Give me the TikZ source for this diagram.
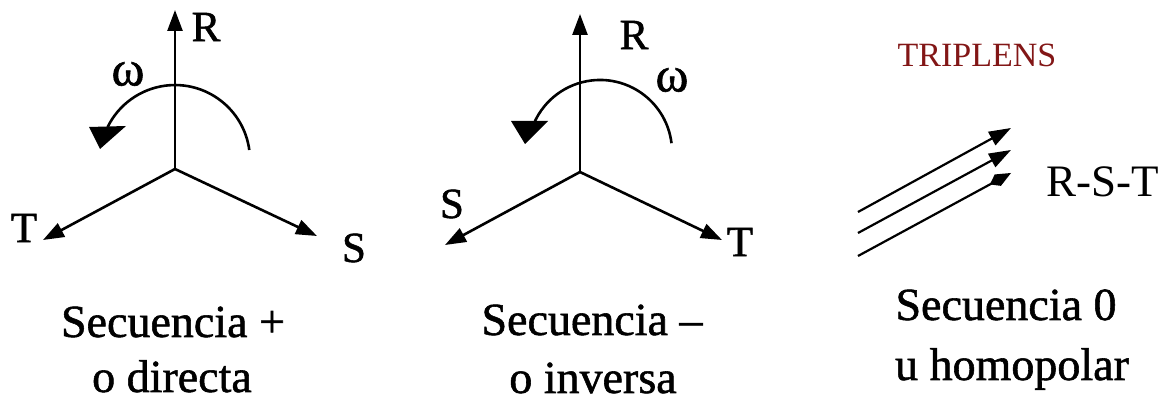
\documentclass[tikz,border=0pt]{standalone}
\usepackage{fontspec}
\setmainfont{Liberation Serif}
\newfontfamily\scanfont[FakeBold=1.2]{Liberation Serif}
\usetikzlibrary{arrows.meta}
\definecolor{darkred}{RGB}{130,22,22}
\begin{document}
\begin{tikzpicture}[x=1pt,y=1pt,
  vec/.style={line width=2.6pt,-{Triangle[length=21pt,width=15pt]}},
  zvec/.style={line width=2.2pt,-{Triangle[length=22pt,width=15pt]}},
  zkite/.style={line width=2.2pt,-{Kite[length=24pt,width=13pt,inset=9pt]}},
  lab/.style={inner sep=0pt,font=\scanfont\fontsize{43}{46}\selectfont},
  omg/.style={inner sep=0pt,font=\scanfont\fontsize{50}{54}\selectfont},
  capt/.style={inner sep=0pt,anchor=base,font=\scanfont\fontsize{46}{50}\selectfont},
  rot/.style={line width=2.6pt},
  head/.style={fill=black}]
\useasboundingbox (0,0) rectangle (1173,401);
% ---------- diagram 1: positive sequence ----------
\coordinate (O1) at (175,232);
\coordinate (R1) at (175,391);
\coordinate (T1) at (43,161);
\coordinate (S1) at (317,165);
\draw[vec] (O1) -- (R1);
\draw[vec] (O1) -- (T1);
\draw[vec] (O1) -- (S1);
\node[lab] (r1) at (206,374) {R};
\node[lab] (t1) at (24,173) {T};
\node[lab] (s1) at (354,153) {S};
\node[omg] (w1) at (128,327) {ω};
\coordinate (a1s) at (249.3,251);
\draw[rot] (a1s) arc[start angle=7.7, end angle=154, radius=75] coordinate (a1e);
\fill[head] (89,274) -- (126,275) -- (100,252) -- cycle;
% ---------- diagram 2: negative sequence ----------
\coordinate (O2) at (580,229);
\coordinate (R2) at (580,387);
\coordinate (S2) at (445,156);
\coordinate (T2) at (722,161);
\draw[vec] (O2) -- (R2);
\draw[vec] (O2) -- (S2);
\draw[vec] (O2) -- (T2);
\node[lab] (r2) at (634,366) {R};
\node[lab] (s2) at (452,197) {S};
\node[lab] (t2) at (740,159) {T};
\node[omg] (w2) at (672,321) {ω};
\coordinate (a2s) at (671.5,257.8);
\draw[rot] (a2s) arc[start angle=7, end angle=156, radius=72] coordinate (a2e);
\fill[head] (511,280) -- (548,280) -- (525,257) -- cycle;
% ---------- diagram 3: zero sequence ----------
\node[inner sep=0pt,text=darkred,font=\fontsize{34}{38}\selectfont] (trip) at (977,346) {TRIPLENS};
\coordinate (z1a) at (858,189); \coordinate (z1b) at (1011,273);
\coordinate (z2a) at (858,168); \coordinate (z2b) at (1011,251);
\coordinate (z3a) at (858,145); \coordinate (z3b) at (1011,228);
\draw[zvec] (z1a) -- (z1b);
\draw[zvec] (z2a) -- (z2b);
\draw[zkite] (z3a) -- (z3b);
\node[inner sep=0pt,font=\fontsize{45}{50}\selectfont] (rst) at (1103,219) {R-S-T};
% ---------- captions ----------
\node[capt] (c1a) at (173,64) {Secuencia +};
\node[capt] (c1b) at (172,9) {o directa};
\node[capt] (c2a) at (592,66) {Secuencia –};
\node[capt] (c2b) at (593,8) {o inversa};
\node[capt] (c3a) at (1006,81) {Secuencia 0};
\node[capt] (c3b) at (1012,21) {u homopolar};
\end{tikzpicture}
\end{document}
